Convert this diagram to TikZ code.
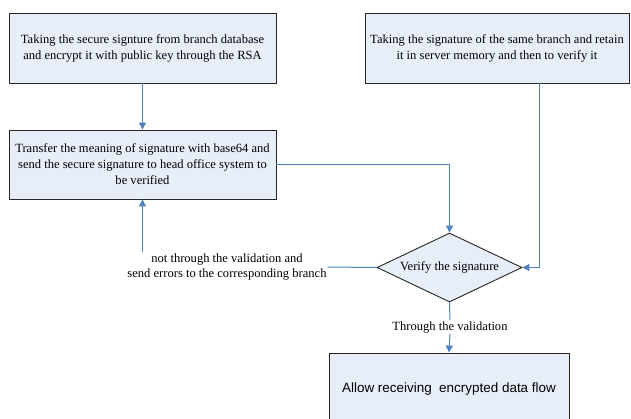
\documentclass[tikz,border=0pt]{standalone}
\usepackage{fontspec}
\setmainfont{Liberation Serif}
\newfontfamily\arialf{Liberation Sans}
\usetikzlibrary{shapes.geometric,arrows.meta}
\definecolor{lineblue}{RGB}{79,129,189}
\definecolor{boxfill}{RGB}{232,238,248}
\tikzset{
  stepbox/.style={draw=black!85,line width=0.9bp,fill=boxfill,align=center,inner sep=0pt,
    font=\fontsize{12.6}{16}\selectfont},
  decision/.style={diamond,draw=black!85,line width=0.9bp,fill=boxfill,inner sep=0pt,
    font=\fontsize{12.6}{16}\selectfont},
  lbl/.style={align=center,inner sep=1bp,font=\fontsize{12.6}{16}\selectfont},
  conn/.style={draw=lineblue,line width=1bp},
  arr/.style={conn,-{Triangle[length=7bp,width=7bp]}}
}
\begin{document}
\begin{tikzpicture}[x=1bp,y=-1bp]
\useasboundingbox (0,0) rectangle (631,418);
\clip (0,0) rectangle (631,418);
\node[stepbox,minimum width=267bp,minimum height=70bp] (b1) at (142.5,48)
  {Taking the secure signture from branch database\\and encrypt it with public key through the RSA};
\node[stepbox,minimum width=264bp,minimum height=70bp] (b2) at (497,48)
  {Taking the signature of the same branch and retain\\it in server memory and then to verify it};
\node[stepbox,minimum width=267bp,minimum height=69bp] (b3) at (142.5,164.5)
  {Transfer the meaning of signature with base64 and\\send the secure signature to head office system to\\be verified};
\node[decision,minimum width=145bp,minimum height=69bp,aspect=2.1] (d) at (449.5,267.5)
  {Verify the signature};
\node[stepbox,minimum width=240bp,minimum height=72bp,font=\arialf\fontsize{13.5}{16}\selectfont] (b4) at (449,389)
  {Allow receiving\ \ encrypted data flow};
\node[lbl] (no) at (227,267) {not through the validation and\\send errors to the corresponding branch};
\node[lbl] (yes) at (450,327) {Through the validation};
\draw[arr] (b1.south) -- (b3.north);
\draw[arr] (b3.east) -| (d.north);
\draw[arr] ([xshift=42bp]b2.south) |- (d.east);
\draw[conn] (d.west) -- (no.east);
\draw[arr] (b3.south |- no.north) -- (b3.south);
\draw[conn] (d.south) -- (yes.north);
\draw[arr] (yes.south) -- (b4.north);
\end{tikzpicture}
\end{document}
